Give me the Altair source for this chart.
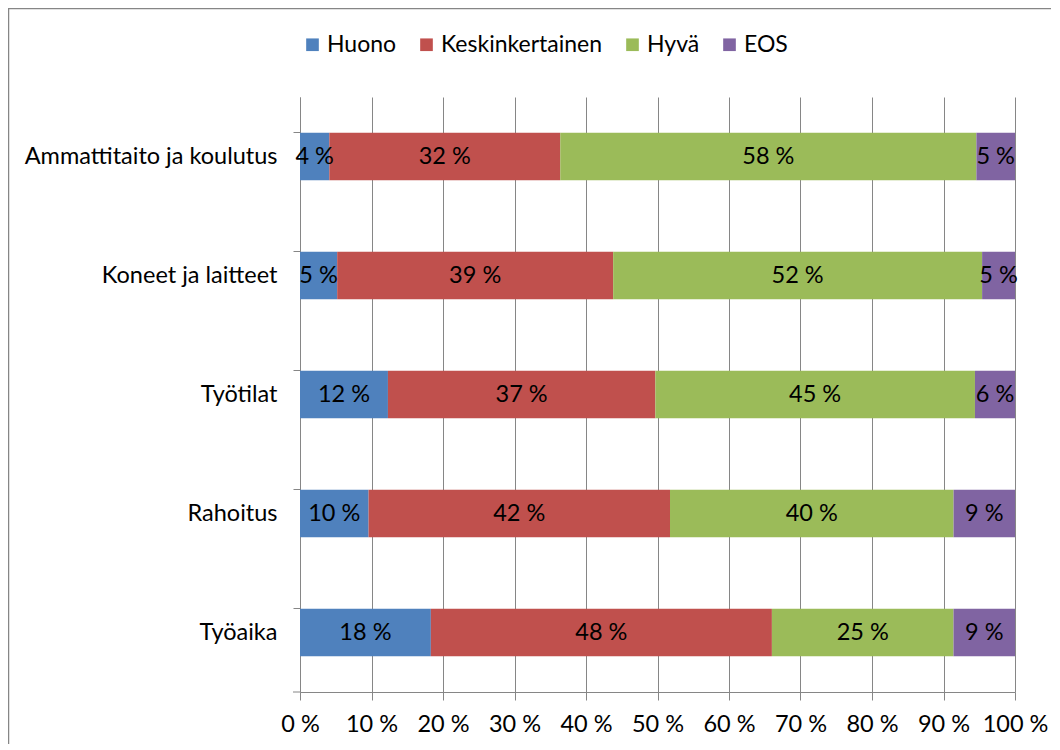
import altair as alt
import pandas as pd

categories = ["Ammattitaito ja koulutus", "Koneet ja laitteet", "Työtilat", "Rahoitus", "Työaika"]
series = ["Huono", "Keskinkertainen", "Hyvä", "EOS"]
huono = [4.1, 5.2, 12.3, 9.6, 18.3]
keskinkertainen = [32.3, 38.6, 37.4, 42.2, 47.7]
hyva = [58.2, 51.6, 44.7, 39.7, 25.4]
eos = [5.4, 4.6, 5.6, 8.6, 8.6]
colors = ["#4F81BD", "#C0504D", "#9BBB59", "#8064A2"]
x_ticks = [0, 0.1, 0.2, 0.3, 0.4, 0.5, 0.6, 0.7, 0.8, 0.9, 1.0]

rows = []
for s_i, (s, vals) in enumerate(zip(series, [huono, keskinkertainen, hyva, eos])):
    for c, v in zip(categories, vals):
        rows.append({"category": c, "series": s, "order": s_i, "value": v})
df = pd.DataFrame(rows)

FONT = "Lato"
FS = 23.5
GRAY = "#868686"

base = alt.Chart(df).transform_joinaggregate(
    total="sum(value)", groupby=["category"]
).transform_window(
    cum="sum(value)", sort=[{"field": "order"}], groupby=["category"], frame=[None, 0]
).transform_calculate(
    start="(datum.cum - datum.value) / datum.total",
    end="datum.cum / datum.total",
    mid="(datum.cum - datum.value / 2) / datum.total",
    label="format(datum.value, '.0f') + ' %'",
)

xscale = alt.Scale(domain=[0, 1], nice=False, zero=True)
yscale = alt.Scale(paddingInner=0.6, paddingOuter=0.3)

bars = base.mark_bar().encode(
    x=alt.X("start:Q", scale=xscale, title=None,
            axis=alt.Axis(values=x_ticks, labelExpr="format(datum.value * 100, '.0f') + ' %'",
                          grid=True, gridColor=GRAY, domainColor=GRAY, tickColor=GRAY,
                          tickSize=8, labelPadding=12, labelFont=FONT, labelFontSize=FS,
                          labelColor="black", labelOverlap=False, labelFlush=False)),
    x2="end:Q",
    y=alt.Y("category:N", sort=categories, scale=yscale, title=None,
            axis=alt.Axis(bandPosition=0, domainColor=GRAY, tickColor=GRAY, tickSize=7,
                          labelPadding=16, labelFont=FONT, labelFontSize=FS,
                          labelColor="black", labelLimit=400)),
    color=alt.Color("series:N", scale=alt.Scale(domain=series, range=colors),
                    legend=alt.Legend(title=None, orient="none", direction="horizontal",
                                      legendX=1, legendY=-64, symbolType="square",
                                      symbolSize=160, symbolStrokeWidth=0,
                                      labelFont=FONT, labelFontSize=23, labelColor="black",
                                      labelLimit=400, columnPadding=18, labelOffset=3)),
)

texts = base.mark_text(font=FONT, fontSize=FS, color="black").encode(
    x=alt.X("mid:Q", scale=xscale),
    y=alt.Y("category:N", sort=categories, scale=yscale),
    text="label:N",
)

one = pd.DataFrame({"a": [0]})
last_tick = alt.Chart(one).mark_rule(color=GRAY).encode(
    x=alt.value(-7), x2=alt.value(0), y=alt.value(595)
)
frame = alt.Chart(one).mark_rect(fillOpacity=0, stroke=GRAY, strokeWidth=1.5).encode(
    x=alt.value(-291.5), x2=alt.value(800), y=alt.value(-88.5), y2=alt.value(700)
)

chart = alt.layer(frame, bars, texts, last_tick).properties(
    width=715, height=595,
    autosize=alt.AutoSizeParams(type="none"),
    padding={"left": 292, "top": 89, "right": 36, "bottom": 52},
).configure_view(stroke=None)

chart.save("out.html", embed_options={"renderer": "svg", "actions": False})
